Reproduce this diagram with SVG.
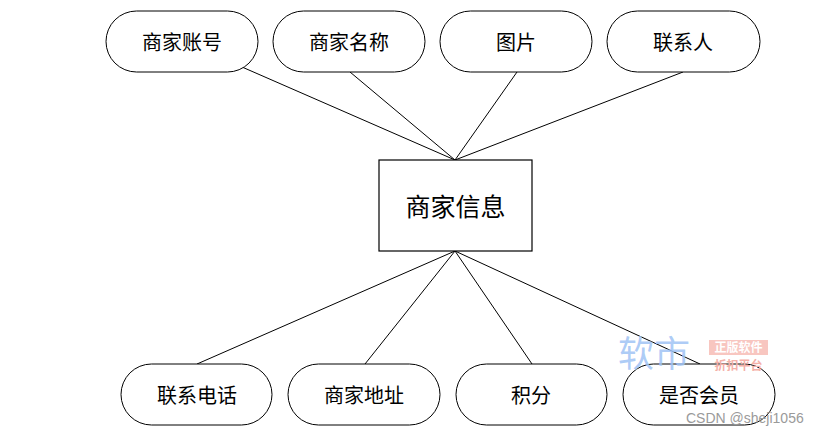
<svg xmlns="http://www.w3.org/2000/svg" width="823" height="435" viewBox="0 0 823 435">
<style>
.pill{fill:#fff;stroke:#000;stroke-width:1}
.box{fill:#fff;stroke:#000;stroke-width:1.2}
.lbl{font-family:"Noto Sans CJK SC","Noto Sans CJK JP",sans-serif;font-size:20px;fill:#000;text-anchor:middle;dominant-baseline:central}
.big{font-size:25px}
#connectors line{stroke:#000;stroke-width:1}
</style>
<rect width="823" height="435" fill="#fff"/>
<g id="connectors">
<line x1="242" y1="67" x2="455" y2="160"/>
<line x1="350" y1="72" x2="455" y2="160"/>
<line x1="517" y1="72" x2="455" y2="160"/>
<line x1="683" y1="72" x2="455" y2="160"/>
<line x1="197" y1="364" x2="455" y2="251"/>
<line x1="365" y1="364" x2="455" y2="251"/>
<line x1="532" y1="364" x2="455" y2="251"/>
<line x1="700" y1="364" x2="455" y2="251"/>
</g>
<g id="n_account"><rect class="pill" x="106" y="11" width="152" height="61" rx="30.5"/><text class="lbl" x="182" y="41">商家账号</text></g>
<g id="n_name"><rect class="pill" x="273" y="11" width="152" height="61" rx="30.5"/><text class="lbl" x="349" y="41">商家名称</text></g>
<g id="n_pic"><rect class="pill" x="440" y="11" width="152" height="61" rx="30.5"/><text class="lbl" x="516" y="41">图片</text></g>
<g id="n_contact"><rect class="pill" x="607" y="11" width="153" height="61" rx="30.5"/><text class="lbl" x="683" y="41">联系人</text></g>
<g id="n_center"><rect class="box" x="379" y="160" width="153" height="91"/><text class="lbl big" x="455.5" y="205">商家信息</text></g>
<g id="n_phone"><rect class="pill" x="121" y="364" width="151" height="61" rx="30.5"/><text class="lbl" x="197" y="394">联系电话</text></g>
<g id="n_addr"><rect class="pill" x="288" y="364" width="152" height="61" rx="30.5"/><text class="lbl" x="364" y="394">商家地址</text></g>
<g id="n_points"><rect class="pill" x="456" y="364" width="151" height="61" rx="30.5"/><text class="lbl" x="531" y="394">积分</text></g>
<g id="n_member"><rect class="pill" x="623" y="364" width="152" height="61" rx="30.5"/><text class="lbl" x="699" y="394">是否会员</text></g>
<g id="watermark" font-family="Noto Sans CJK SC,sans-serif">
<text x="618" y="367" font-size="36" fill="#9fc3f5" fill-opacity="0.85">软市</text>
<rect x="709" y="340" width="59" height="15" fill="#f6b8b0" fill-opacity="0.8"/>
<text x="738.5" y="351.5" font-size="12" font-weight="bold" fill="#fff" text-anchor="middle">正版软件</text>
<text x="738.5" y="369.5" font-size="12" font-weight="bold" fill="#f4b0a8" text-anchor="middle">折扣平台</text>
<text x="686" y="423" font-family="Liberation Sans,sans-serif" font-size="14" fill="#9a9a9a">CSDN @sheji1056</text>
</g>
</svg>
